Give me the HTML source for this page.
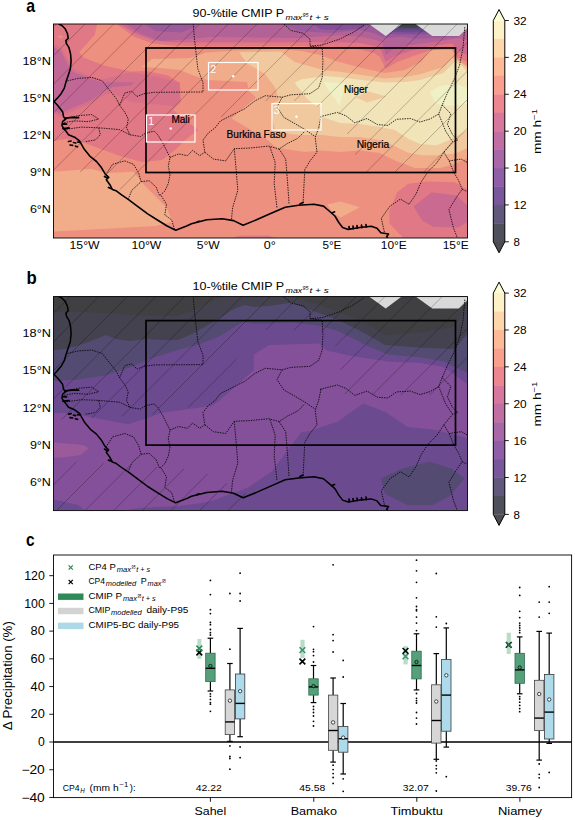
<!DOCTYPE html>
<html><head><meta charset="utf-8"><title>Figure</title>
<style>
html,body{margin:0;padding:0;background:#fff;}
body{width:575px;height:820px;overflow:hidden;font-family:"Liberation Sans",sans-serif;}
svg{display:block;}
text{font-family:"Liberation Sans",sans-serif;fill:#000;}
.b{font-weight:bold;}
.i{font-style:italic;}
</style></head><body>
<svg width="575" height="820" viewBox="0 0 575 820">
<rect x="0" y="0" width="575" height="820" fill="#ffffff"/>
<defs><clipPath id="clipA"><rect x="53.5" y="24" width="414" height="214"/></clipPath></defs>
<g clip-path="url(#clipA)">
<rect x="53.5" y="24" width="414" height="214" fill="#ed9080"/>
<path d="M142 67 L152 59 L190 58 L206 52.4 L235 50.5 L277 49 L302 51 L320 55 L338 61.7 L362 68 L385 73 L405 70 L421 62 L430 50 L452 50 L458 60 L467.5 66 L467.5 158 L455 164 L440 168 L415 168 L396 161 L380 153 L360 150.6 L340 152 L320 150.6 L305 152 L277 148 L265 138 L251 130 L231.5 118.5 L256 97.6 L249 91 L247 82 L208 80 L192 75 L180 70 L160 68Z" fill="#f1ac8a" />
<path d="M53.3 171.7 L91.7 169 L105.6 173.1 L133.5 171.7 L144.6 185.6 L166.9 207.9 L172.4 221.8 L155.7 226 L105.6 228.8 L53.3 231.6Z" fill="#f1ac8a" />
<path d="M327.3 204.5 L340.7 201.5 L359.8 207.2 L340.7 217.5 L333 213Z" fill="#f1ac8a" />
<path d="M239 52.3 L280.7 51.5 L294.6 62 L325 70.6 L338 71.5 L362 75 L385 78.4 L405 77 L421 74 L443.6 67 L452 58 L460 62 L467.5 68 L467.5 148 L455 153.6 L436.8 155.2 L421 155.2 L407.5 152.6 L395 146.3 L380 140 L360 137 L340 137 L322 135 L300 135 L290 134 L275 130 L272 118 L271 103.7 L279 100 L275.4 88 L265 74 L247.6 63.7Z" fill="#f1c99f" />
<path d="M301.5 79.3 L325 76 L338 77 L362 80 L385 82.6 L405 82 L421 79.8 L443.6 72.9 L454.7 61.7 L462 66 L467.5 72 L467.5 130 L455 137 L449.3 140 L436.8 145.3 L421 144.2 L408.6 139 L395 130 L380 127 L360 124 L340 123 L322 117 L321 106 L315.4 105.4 L306.7 98.4 L294.6 82.8Z" fill="#f0e4b8" />
<path d="M356 97.4 L367.4 91.3 L386.5 96.5 L367.4 102.6Z" fill="#f1c99f" />
<path d="M323 81.7 L345.7 83.5 L339.6 106Z" fill="#eff0c5" />
<path d="M429.6 92 L440 86 L456 84 L467.5 88 L467.5 104 L450 106 L436 104Z" fill="#eff0c5" />
<path d="M53.5 24 L97.3 24 L94.5 35.3 L79.2 52 L83.4 57.6 L105.6 65.9 L130.7 71.5 L146 71 L168 75.5 L180 83 L181 102 L173 110 L198 130 L184 141 L175 150 L162 160 L142 162 L120 156 L86 143.5 L67 139 L53.5 141Z" fill="#e17885" />
<path d="M57.5 36.7 L60.6 35.2 L63.8 36.7 L60.6 38.3Z" fill="#ed9080" />
<path d="M53.5 46.5 L61 49 L72 59 L78 71.5 L103 80 L146 80 L176 84 L178 101 L170 110 L192 130 L180 140 L172 148 L160 157 L142 159 L120 153 L86 140.5 L67 136 L53.5 138Z" fill="#e17885" />
<path d="M53.5 44 L62 48.5 L67 58 L73.5 69 L91 76.5 L102 79.5 L130 72.5 L146.5 74.5 L179.6 82.6 L179.6 100 L174.3 106 L147.4 103.5 L130 101.7 L112 93 L104 95 L93 102.5 L71 112 L59.4 116.5 L53.5 113.5Z" fill="#d67189"/>
<path d="M53.5 47 L61 51 L65.6 60.3 L71.9 71.3 L90.7 79.1 L101.6 82.3 L134.5 82.3 L131.4 85.4 L112.6 87 L103.2 91.6 L92.3 99.5 L70.3 108.9 L59.4 113.6 L53.5 110.4Z" fill="#c16795"/>
<path d="M116.5 24 L134 36.7 L153 43.6 L172.4 45.6 L210 46.4 L300 46 L338 48 L360 49.5 L374 53 L380 57 L385.7 68.7 L397 62 L412 56.5 L430 50.5 L452 48 L458 58 L467.5 62 L467.5 24Z" fill="#e17885" />
<path d="M120 24 L136 34 L154 40.5 L172 42.3 L210 42.5 L300 42.3 L338 42.3 L360 43 L374 45.7 L381 50 L385.7 61.7 L395 56 L410 51 L432 46 L452 43.5 L460 52 L467.5 55 L467.5 24Z" fill="#cb6a90" />
<path d="M126 24 L140 33.5 L161.3 40.9 L183.6 39.5 L210 37 L300 38 L338 35.3 L360 36.7 L374 39.5 L382.3 42.3 L385.7 54.8 L392 50 L406 45.7 L440 40.9 L459 38 L463 40 L467.5 40 L467.5 24Z" fill="#b36297" />
<path d="M144.6 24 L155.7 31 L180.8 32.5 L194.7 27 L197.5 24Z" fill="#9b5a9a" />
<path d="M283 24 L298 31 L330 33 L360 30 L374 33.2 L385.7 38 L401.7 36.7 L415.6 38.8 L432 38 L459 37 L459 24Z" fill="#9b5a9a" />
<path d="M312 24 L322 29.5 L345 30 L362 28 L369 24.2Z" fill="#835099" />
<path d="M388.5 34 L400 34.2 L415 34.6 L429.5 34 L415.6 24.2 L401.7 24.2Z" fill="#835099" />
<path d="M391.5 31.7 L401 32 L415 32.3 L426.5 31.8 L415.6 24.2 L401.7 24.2Z" fill="#6b4a8f" />
<path d="M394.3 29.7 L402 29.9 L414 30.1 L423.4 29.7 L415.6 24.2 L401.7 24.2Z" fill="#534b71" />
<path d="M397.1 27.6 L403 27.8 L413 27.9 L420.4 27.6 L415.6 24.2 L401.7 24.2Z" fill="#43424e" />
<path d="M399.5 25.8 L417.9 25.8 L415.6 24.2 L401.7 24.2Z" fill="#403f42" />
<path d="M369 24 L385.7 36 L401.7 24Z" fill="#d9d9d9"/>
<path d="M415.6 24 L432.3 36 L459 36 L467.5 28 L467.5 24Z" fill="#d9d9d9"/>
<path d="M389.4 211.1 L397.2 192.3 L408.2 183.7 L426.9 181.4 L455.1 182.2 L467.5 189.5 L467.5 238 L403.5 238 L389.4 223.6Z" fill="#e17885" />
<path d="M413.6 206.4 L431.6 192.3 L456.7 195.5 L467.5 205.5 L467.5 222.1 L458.2 227.6 L433.2 226.8 L422.3 220.5Z" fill="#cb6a90" />
<path d="M232 238 L240 235.5 L268 235.5 L276 238Z" fill="#e17885" />
</g>
<defs><clipPath id="hatchA"><path d="M53.5 24 L467.5 24 L467.5 130 L455 150 L440 172 L362 172 L340 115 L303 101 L262 101 L244 121 L210 115 L161 170 L150 172 L120 190 L100 172 L53.5 172Z"/></clipPath></defs>
<g clip-path="url(#hatchA)" stroke="#000" stroke-opacity="0.55" stroke-width="0.45" fill="none">
<line x1="-272" y1="238" x2="-58" y2="24"/>
<line x1="-243.38" y1="238" x2="-29.38" y2="24"/>
<line x1="-214.76" y1="238" x2="-0.76" y2="24"/>
<line x1="-186.14" y1="238" x2="27.86" y2="24"/>
<line x1="-157.52" y1="238" x2="56.48" y2="24"/>
<line x1="-128.9" y1="238" x2="85.1" y2="24"/>
<line x1="-100.28" y1="238" x2="113.72" y2="24"/>
<line x1="-71.66" y1="238" x2="142.34" y2="24"/>
<line x1="-43.04" y1="238" x2="170.96" y2="24"/>
<line x1="-14.42" y1="238" x2="199.58" y2="24"/>
<line x1="14.2" y1="238" x2="228.2" y2="24"/>
<line x1="42.82" y1="238" x2="256.82" y2="24"/>
<line x1="71.44" y1="238" x2="285.44" y2="24"/>
<line x1="100.06" y1="238" x2="314.06" y2="24"/>
<line x1="128.68" y1="238" x2="342.68" y2="24"/>
<line x1="157.3" y1="238" x2="371.3" y2="24"/>
<line x1="185.92" y1="238" x2="399.92" y2="24"/>
<line x1="214.54" y1="238" x2="428.54" y2="24"/>
<line x1="243.16" y1="238" x2="457.16" y2="24"/>
<line x1="271.78" y1="238" x2="485.78" y2="24"/>
<line x1="300.4" y1="238" x2="514.4" y2="24"/>
<line x1="329.02" y1="238" x2="543.02" y2="24"/>
<line x1="357.64" y1="238" x2="571.64" y2="24"/>
<line x1="386.26" y1="238" x2="600.26" y2="24"/>
<line x1="414.88" y1="238" x2="628.88" y2="24"/>
<line x1="443.5" y1="238" x2="657.5" y2="24"/>
<line x1="472.12" y1="238" x2="686.12" y2="24"/>
<line x1="500.74" y1="238" x2="714.74" y2="24"/>
<line x1="529.36" y1="238" x2="743.36" y2="24"/>
<line x1="557.98" y1="238" x2="771.98" y2="24"/>
<line x1="586.6" y1="238" x2="800.6" y2="24"/>
<line x1="615.22" y1="238" x2="829.22" y2="24"/>
<line x1="643.84" y1="238" x2="857.84" y2="24"/>
<line x1="672.46" y1="238" x2="886.46" y2="24"/>
<line x1="701.08" y1="238" x2="915.08" y2="24"/>
<line x1="729.7" y1="238" x2="943.7" y2="24"/>
<line x1="758.32" y1="238" x2="972.32" y2="24"/>
<line x1="786.94" y1="238" x2="1000.94" y2="24"/>
<line x1="815.56" y1="238" x2="1029.56" y2="24"/>
<line x1="844.18" y1="238" x2="1058.18" y2="24"/>
</g>
<g clip-path="url(#clipA)">
<path d="M58.7 24 L61.9 25.5 L65.1 28.7 L67.4 33.5 L68.2 38.2 L65.8 40.6 L66.6 43.8 L69 47.7 L70.6 54.1 L71.1 61.2 L70.3 69.1 L68.2 75.5 L65.8 82.6 L64.3 88.1 L61.1 93.7 L57.1 98.4 L54 101.6 L57.1 104.8 L60.3 108.7 L62.7 111.9 L63.5 116.7 L65.8 119 L62.7 121.4 L61.9 125.4 L63.7 128.7 L65.8 130.9 L68.5 134.7 L74.6 137.2 L79.5 140.8 L84.3 149.3 L90.4 156.7 L96.5 161.5 L101.4 167.6 L105 173.7 L108.7 177.4 L106.3 179.8 L109.9 184.7 L112.4 189.5 L116 190.7 L120.9 194.4 L128.2 199.3 L137.9 206.6 L147.7 213.9 L157.4 220 L167.1 226 L175.7 230.2 L186.6 226 L191.5 223.7 L206.8 219.8 L222.1 218.7 L233.6 220.6 L243.1 225.2 L256.5 219.8 L271.8 213 L285.2 207.2 L298.6 205.3 L313.9 204.2 L323.5 206.1 L329.2 211 L334.9 216 L338.8 222.5 L342.6 227.5 L348.3 229.4 L359.8 227.5 L371.3 226.3 L377 228.3 L380.8 232.8 L388.5 234 L386.6 236.7 L388 238" fill="none" stroke="#000" stroke-width="1.6" stroke-linejoin="round"/>
<path d="M65.5 118.2 L72 117.4 L78.5 117.6 M63 128.6 L69 128 M63.5 124 L66.5 124.2" fill="none" stroke="#000" stroke-width="1.8" stroke-linecap="round"/><path d="M68.5 141.5 l2.6 -0.5 M73.5 142.5 l2.2 0.5 M70 145 l2.6 0.3 M75.5 146.2 l2 0.6 M77.5 142 l2.4 0.4 M104.5 176.5 l2.8 1.6 M108.5 187.5 l3 1.2 M349 226.5 l0.3 2.6 M353 226 l0.3 2.6 M357 225.5 l0.3 2.6 M361.5 225.2 l0.3 2.4 M366 224.6 l0.4 2.4 M332 213 l2.5 -1.2 M197 222 l2 -0.8 M300 204 l3 -1.5" fill="none" stroke="#000" stroke-width="1.7" stroke-linecap="round"/>
<g fill="none" stroke="#000" stroke-width="0.8" stroke-dasharray="1.5 1.0" transform="translate(0 0)">
<path d="M67.4 80.9 L77.8 78.4 L91.7 77.4 L102.2 80.9 L109.1 89.6 L116.1 98.3 L119.6 105.2 L124.8 112.2 L128.3 119.1 L126.5 127.8 L130 134.8"/>
<path d="M119.6 105.2 L124.8 93 L131.7 91.3 L137 96.5 L143.9 93.7 L154.3 92.3 L203 92 L203 82.6 L197.8 68.7 L194.3 37.4 L193.3 24.2"/>
<path d="M63.9 119.1 L77.8 115.7 L91.7 114.6 L98.7 119.1 L88.3 121.6 L74.3 120.9 L63.9 122.6"/>
<path d="M63.9 129.6 L81.3 127.1 L98.7 127.8 L100.4 134.8 L95.2 140 L84.8 141.7"/>
<path d="M98.7 127.8 L119.6 129.6 L130 134.8 L140.4 136.5 L145.7 133 L154.3 131.3 L157.8 134.8 L163 143.5 L166.5 150.4 L170 157.4 L168.3 166.1 L170 174.8"/>
<path d="M105.7 174.8 L112.6 164.3 L124.8 160.9 L133.5 164.3 L138.7 173 L141.1 181.7 L131.7 190.4 L128.3 199.1"/>
<path d="M141.1 181.7 L149.1 180.7 L156.1 187 L159.6 195.7 L164.8 191.1 L168.3 183.5 L170 174.8"/>
<path d="M161.3 195.7 L166.5 204.3 L164.8 214.8 L171.7 220 L174.5 229.4"/>
<path d="M170 157.4 L178.7 153.9 L187.4 155.7 L192.6 150.4 L199.6 155.7 L204.8 152.2 L203 140 L208.3 133 L215.2 127.8 L220.4 120.9 L227.4 117.4 L237.8 112.2 L244.8 108.7 L254.8 100.9 L265.2 95.7 L282.2 97.2 L290.9 94.8 L310 93.7 L318.7 87.8 L322.2 77.4 L322.9 61.7 L322.2 47.8 L310 46.1"/>
<path d="M204.8 152.2 L213.5 159.1 L225.7 160.9 L234.3 148.7 L250 148 L268.7 146.1 L279.1 149 L287.4 143.5 L297.8 138.3 L304.8 131.3"/>
<path d="M234.3 148.7 L236.1 169.6 L237.8 190.4 L232.6 207.8 L231.5 219"/>
<path d="M270 147 L275.2 162.6 L274.2 183.5 L277 207.8"/>
<path d="M279.1 149 L285.7 159.1 L287.4 180 L289.1 204.3"/>
<path d="M282.2 97.2 L277 107 L283.9 117.4 L296.1 124.3 L304.8 129.5 L315.2 136.5"/>
<path d="M321 116.5 L318.7 127.8 L315.2 137.5 L317 152.2 L310 160.9 L304.8 169.6 L303 204.3"/>
<path d="M320 116.7 L337.4 112.4 L346.1 115.9 L354.8 122.8 L367 118.5 L377.4 124.6 L387.8 125.4 L396.5 119.3 L410.4 118.5 L420 122 L430 119 L438.7 114 L442.2 105"/>
<path d="M283.9 24.2 L290.9 30.4 L303 33.2 L310 39.1 L310 46.1 L322.2 45 L339.6 39.1 L353.5 32.2 L363.9 25.2"/>
<path d="M464.8 27 L463 47.8 L459.6 65.2 L454.3 79.1 L447.4 93 L442.2 105"/>
<path d="M442.2 105 L450.9 113.9 L447.4 124.3 L452.6 134.8 L457.8 140 L452.6 141.7 L443.9 152.2 L437 162.6 L428.3 171.3 L421.3 181.7 L416.1 193.9 L409.1 204.3 L400.4 199.1 L390 206.1 L381.3 218.3 L384.8 233.9"/>
<path d="M438.7 114 L442.2 122.6 L445.7 131.3 L452.6 141.7"/>
<path d="M443.9 152.2 L449.1 160.9 L461.3 159.1 L467.5 162.6"/>
<path d="M449.1 160.9 L453.6 172 L458.2 179.8 L462.2 189.2 L456.7 197 L448.9 209.6 L451.2 219 L453.6 228.3 L456.7 236.2 L457 238"/>
<path d="M462.2 189.2 L467.5 191.8"/>
</g>
<rect x="146" y="48" width="309.5" height="124.5" fill="none" stroke="#000" stroke-width="1.7"/>
<rect x="146.5" y="115" width="48.5" height="27" fill="none" stroke="#fff" stroke-width="1.2"/>
<circle cx="170.75" cy="128.5" r="1.2" fill="#fff"/>
<text x="148.3" y="125.3" font-size="10.5" style="fill:#fff">1</text>
<rect x="208.5" y="62.5" width="49.5" height="27.5" fill="none" stroke="#fff" stroke-width="1.2"/>
<circle cx="233.25" cy="76.25" r="1.2" fill="#fff"/>
<text x="210.3" y="72.8" font-size="10.5" style="fill:#fff">2</text>
<rect x="272" y="103.6" width="49" height="26.4" fill="none" stroke="#fff" stroke-width="1.2"/>
<circle cx="296.5" cy="116.8" r="1.2" fill="#fff"/>
<text x="273.8" y="113.9" font-size="10.5" style="fill:#fff">3</text>
</g>
<text x="180.6" y="122.6" font-size="10" text-anchor="middle" textLength="18.4" lengthAdjust="spacingAndGlyphs" stroke="#000" stroke-width="0.2">Mali</text>
<text x="356" y="92.5" font-size="10" text-anchor="middle" textLength="23.8" lengthAdjust="spacingAndGlyphs" stroke="#000" stroke-width="0.2">Niger</text>
<text x="256.3" y="138" font-size="10" text-anchor="middle" textLength="59.5" lengthAdjust="spacingAndGlyphs" stroke="#000" stroke-width="0.2">Burkina Faso</text>
<text x="373" y="147.8" font-size="10" text-anchor="middle" textLength="32.6" lengthAdjust="spacingAndGlyphs" stroke="#000" stroke-width="0.2">Nigeria</text>
<rect x="53.5" y="24" width="414" height="214" fill="none" stroke="#000" stroke-width="0.9"/>
<text x="50.9" y="64.5" font-size="11.2" text-anchor="end" textLength="28.4" lengthAdjust="spacingAndGlyphs">18°N</text>
<text x="50.9" y="101.7" font-size="11.2" text-anchor="end" textLength="28.4" lengthAdjust="spacingAndGlyphs">15°N</text>
<text x="50.9" y="138.9" font-size="11.2" text-anchor="end" textLength="28.4" lengthAdjust="spacingAndGlyphs">12°N</text>
<text x="50.9" y="176.1" font-size="11.2" text-anchor="end" textLength="21" lengthAdjust="spacingAndGlyphs">9°N</text>
<text x="50.9" y="213.3" font-size="11.2" text-anchor="end" textLength="21" lengthAdjust="spacingAndGlyphs">6°N</text>
<text x="84.55" y="249.2" font-size="11.2" text-anchor="middle" textLength="30" lengthAdjust="spacingAndGlyphs">15°W</text>
<text x="146.4" y="249.2" font-size="11.2" text-anchor="middle" textLength="30" lengthAdjust="spacingAndGlyphs">10°W</text>
<text x="208.25" y="249.2" font-size="11.2" text-anchor="middle" textLength="23" lengthAdjust="spacingAndGlyphs">5°W</text>
<text x="269.7" y="249.2" font-size="11.2" text-anchor="middle" textLength="12" lengthAdjust="spacingAndGlyphs">0°</text>
<text x="331.95" y="249.2" font-size="11.2" text-anchor="middle" textLength="19" lengthAdjust="spacingAndGlyphs">5°E</text>
<text x="393.8" y="249.2" font-size="11.2" text-anchor="middle" textLength="26" lengthAdjust="spacingAndGlyphs">10°E</text>
<text x="455.65" y="249.2" font-size="11.2" text-anchor="middle" textLength="26" lengthAdjust="spacingAndGlyphs">15°E</text>
<rect x="493.3" y="20.5" width="11.5" height="18.7417" fill="#fdf1c5"/>
<rect x="493.3" y="38.9417" width="11.5" height="18.7417" fill="#fed6ac"/>
<rect x="493.3" y="57.3833" width="11.5" height="18.7417" fill="#feb997"/>
<rect x="493.3" y="75.825" width="11.5" height="18.7417" fill="#fa9e8d"/>
<rect x="493.3" y="94.2667" width="11.5" height="18.7417" fill="#ee8692"/>
<rect x="493.3" y="112.708" width="11.5" height="18.7417" fill="#d8779d"/>
<rect x="493.3" y="131.15" width="11.5" height="18.7417" fill="#c06fa4"/>
<rect x="493.3" y="149.592" width="11.5" height="18.7417" fill="#a867a7"/>
<rect x="493.3" y="168.033" width="11.5" height="18.7417" fill="#905ea6"/>
<rect x="493.3" y="186.475" width="11.5" height="18.7417" fill="#78579d"/>
<rect x="493.3" y="204.917" width="11.5" height="18.7417" fill="#61587e"/>
<rect x="493.3" y="223.358" width="11.5" height="18.7417" fill="#504f5c"/>
<path d="M493.3 20.5 L499.05 9.5 L504.8 20.5Z" fill="#fcfdd2"/>
<path d="M493.3 241.8 L499.05 252.8 L504.8 241.8Z" fill="#4d4d4f"/>
<path d="M493.3 20.5 L499.05 9.5 L504.8 20.5 L504.8 241.8 L499.05 252.8 L493.3 241.8Z" fill="none" stroke="#000" stroke-width="1" stroke-linejoin="miter"/>
<line x1="504.8" y1="20.5" x2="508.8" y2="20.5" stroke="#000" stroke-width="0.9"/>
<text x="513.5" y="24.7" font-size="11.2" textLength="13.2" lengthAdjust="spacingAndGlyphs">32</text>
<line x1="504.8" y1="57.3833" x2="508.8" y2="57.3833" stroke="#000" stroke-width="0.9"/>
<text x="513.5" y="61.5833" font-size="11.2" textLength="13.2" lengthAdjust="spacingAndGlyphs">28</text>
<line x1="504.8" y1="94.2667" x2="508.8" y2="94.2667" stroke="#000" stroke-width="0.9"/>
<text x="513.5" y="98.4667" font-size="11.2" textLength="13.2" lengthAdjust="spacingAndGlyphs">24</text>
<line x1="504.8" y1="131.15" x2="508.8" y2="131.15" stroke="#000" stroke-width="0.9"/>
<text x="513.5" y="135.35" font-size="11.2" textLength="13.2" lengthAdjust="spacingAndGlyphs">20</text>
<line x1="504.8" y1="168.033" x2="508.8" y2="168.033" stroke="#000" stroke-width="0.9"/>
<text x="513.5" y="172.233" font-size="11.2" textLength="13.2" lengthAdjust="spacingAndGlyphs">16</text>
<line x1="504.8" y1="204.917" x2="508.8" y2="204.917" stroke="#000" stroke-width="0.9"/>
<text x="513.5" y="209.117" font-size="11.2" textLength="13.2" lengthAdjust="spacingAndGlyphs">12</text>
<line x1="504.8" y1="241.8" x2="508.8" y2="241.8" stroke="#000" stroke-width="0.9"/>
<text x="513.5" y="246" font-size="11.2" textLength="6.4" lengthAdjust="spacingAndGlyphs">8</text>
<text transform="translate(541 131.5) rotate(-90)" font-size="11.3" text-anchor="middle" textLength="45" lengthAdjust="spacingAndGlyphs">mm h<tspan font-size="7.9" dy="-4.2">−1</tspan></text>
<text x="26.2" y="11.9" font-size="18.5" class="b" textLength="8.8" lengthAdjust="spacingAndGlyphs">a</text>
<text x="192.6" y="17.3" font-size="11.4" textLength="91.5" lengthAdjust="spacingAndGlyphs">90-%tile CMIP P</text>
<text x="285.6" y="20" font-size="8" class="i" textLength="16.6" lengthAdjust="spacingAndGlyphs">max</text>
<text x="302.6" y="17" font-size="5.6" class="i" textLength="6" lengthAdjust="spacingAndGlyphs">95</text>
<text x="309.4" y="20" font-size="8" class="i" textLength="19.3" lengthAdjust="spacingAndGlyphs">t + s</text>
<defs><clipPath id="clipB"><rect x="53.5" y="296.6" width="414" height="214"/></clipPath></defs>
<g clip-path="url(#clipB)">
<rect x="53.5" y="296.6" width="414" height="214" fill="#6b4a8f"/>
<path d="M53.5 413 L72 413 L92 417.3 L128 424.3 L145 418.7 L161 413 L189 409 L210.6 406 L216 403.3 L235.6 386.6 L253.7 370 L253.7 354.6 L269 345 L319 343.5 L326.7 350.4 L351.7 356 L388 361.6 L421 363 L443.6 367 L467.5 384 L467.5 438.2 L435 429.8 L407.4 427 L385 411.7 L363 403.4 L338 421.5 L310 431 L301 432.6 L271.8 471.6 L246.8 488.3 L207.8 502.2 L180 506 L140 508 L120 510.9 L86 510.9 L78 505 L53.5 499.4Z" fill="#835099" />
<path d="M53.3 442.3 L83.4 445.1 L89 447.9 L80.6 454.9 L61.1 457.7 L53.3 457.7Z" fill="#9b5a9a" />
<path d="M53.5 381 L78 379.6 L105.6 375.5 L133.5 366 L152 358 L178 350 L200 344 L220 336 L236 326 L244 322 L255 324 L291.3 322.6 L319 325.4 L337.8 331 L365.6 344.9 L387.9 354.6 L421.3 357.4 L443.6 361.6 L467.5 372.7 L467.5 296.6 L53.5 296.6Z" fill="#534b71" />
<path d="M53.5 350 L66 349 L86 343 L106 335 L116 339 L130 341 L146 339 L165 340 L178 340 L192 334 L206 326 L220 318 L232 310 L244 305 L255 307 L271.8 305.4 L291.3 302.6 L310.8 310.1 L337.8 319.8 L365.6 333.7 L385.1 344.9 L421.3 347.7 L454.7 349 L467.5 333.7 L467.5 296.6 L53.5 296.6Z" fill="#43424e" />
<path d="M53.5 296.6 L224 296.6 L220 298 L206 304 L192 311 L176 316 L140 315.5 L110 313 L80 312 L53.5 312Z" fill="#403f42" />
<path d="M291.3 296.6 L313.6 303.1 L337.8 311.5 L365.6 322.6 L385.1 335.1 L421.3 332.3 L454.7 326.8 L464.4 308.7 L467.5 305 L467.5 296.6Z" fill="#403f42" />
<path d="M381 478.5 L401.8 468.8 L429.6 461.8 L451.9 468.8 L464.4 478.5 L449.1 496.6 L432.4 505 L407.4 505 L385.1 493.8Z" fill="#534b71" />
<path d="M369 296.6 L385.7 308.6 L401.7 296.6Z" fill="#d9d9d9"/>
<path d="M415.6 296.6 L432.3 308.6 L459 308.6 L467.5 300.6 L467.5 296.6Z" fill="#d9d9d9"/>
</g>
<defs><clipPath id="hatchB"><path d="M53.5 296.6 L467.5 296.6 L467.5 380 L440 395 L345 395 L335 345 L320 330 L262 330 L240 352 L215 402 L150 415 L53.5 420Z M53.5 460 L200 470 L260 500 L250 510.9 L53.5 510.9Z"/></clipPath></defs>
<g clip-path="url(#hatchB)" stroke="#000" stroke-opacity="0.55" stroke-width="0.45" fill="none">
<line x1="-544.6" y1="510.6" x2="-330.6" y2="296.6"/>
<line x1="-515.98" y1="510.6" x2="-301.98" y2="296.6"/>
<line x1="-487.36" y1="510.6" x2="-273.36" y2="296.6"/>
<line x1="-458.74" y1="510.6" x2="-244.74" y2="296.6"/>
<line x1="-430.12" y1="510.6" x2="-216.12" y2="296.6"/>
<line x1="-401.5" y1="510.6" x2="-187.5" y2="296.6"/>
<line x1="-372.88" y1="510.6" x2="-158.88" y2="296.6"/>
<line x1="-344.26" y1="510.6" x2="-130.26" y2="296.6"/>
<line x1="-315.64" y1="510.6" x2="-101.64" y2="296.6"/>
<line x1="-287.02" y1="510.6" x2="-73.02" y2="296.6"/>
<line x1="-258.4" y1="510.6" x2="-44.4" y2="296.6"/>
<line x1="-229.78" y1="510.6" x2="-15.78" y2="296.6"/>
<line x1="-201.16" y1="510.6" x2="12.84" y2="296.6"/>
<line x1="-172.54" y1="510.6" x2="41.46" y2="296.6"/>
<line x1="-143.92" y1="510.6" x2="70.08" y2="296.6"/>
<line x1="-115.3" y1="510.6" x2="98.7" y2="296.6"/>
<line x1="-86.68" y1="510.6" x2="127.32" y2="296.6"/>
<line x1="-58.06" y1="510.6" x2="155.94" y2="296.6"/>
<line x1="-29.44" y1="510.6" x2="184.56" y2="296.6"/>
<line x1="-0.82" y1="510.6" x2="213.18" y2="296.6"/>
<line x1="27.8" y1="510.6" x2="241.8" y2="296.6"/>
<line x1="56.42" y1="510.6" x2="270.42" y2="296.6"/>
<line x1="85.04" y1="510.6" x2="299.04" y2="296.6"/>
<line x1="113.66" y1="510.6" x2="327.66" y2="296.6"/>
<line x1="142.28" y1="510.6" x2="356.28" y2="296.6"/>
<line x1="170.9" y1="510.6" x2="384.9" y2="296.6"/>
<line x1="199.52" y1="510.6" x2="413.52" y2="296.6"/>
<line x1="228.14" y1="510.6" x2="442.14" y2="296.6"/>
<line x1="256.76" y1="510.6" x2="470.76" y2="296.6"/>
<line x1="285.38" y1="510.6" x2="499.38" y2="296.6"/>
<line x1="314" y1="510.6" x2="528" y2="296.6"/>
<line x1="342.62" y1="510.6" x2="556.62" y2="296.6"/>
<line x1="371.24" y1="510.6" x2="585.24" y2="296.6"/>
<line x1="399.86" y1="510.6" x2="613.86" y2="296.6"/>
<line x1="428.48" y1="510.6" x2="642.48" y2="296.6"/>
<line x1="457.1" y1="510.6" x2="671.1" y2="296.6"/>
<line x1="485.72" y1="510.6" x2="699.72" y2="296.6"/>
<line x1="514.34" y1="510.6" x2="728.34" y2="296.6"/>
<line x1="542.96" y1="510.6" x2="756.96" y2="296.6"/>
<line x1="571.58" y1="510.6" x2="785.58" y2="296.6"/>
</g>
<g clip-path="url(#clipB)">
<path d="M58.7 24 L61.9 25.5 L65.1 28.7 L67.4 33.5 L68.2 38.2 L65.8 40.6 L66.6 43.8 L69 47.7 L70.6 54.1 L71.1 61.2 L70.3 69.1 L68.2 75.5 L65.8 82.6 L64.3 88.1 L61.1 93.7 L57.1 98.4 L54 101.6 L57.1 104.8 L60.3 108.7 L62.7 111.9 L63.5 116.7 L65.8 119 L62.7 121.4 L61.9 125.4 L63.7 128.7 L65.8 130.9 L68.5 134.7 L74.6 137.2 L79.5 140.8 L84.3 149.3 L90.4 156.7 L96.5 161.5 L101.4 167.6 L105 173.7 L108.7 177.4 L106.3 179.8 L109.9 184.7 L112.4 189.5 L116 190.7 L120.9 194.4 L128.2 199.3 L137.9 206.6 L147.7 213.9 L157.4 220 L167.1 226 L175.7 230.2 L186.6 226 L191.5 223.7 L206.8 219.8 L222.1 218.7 L233.6 220.6 L243.1 225.2 L256.5 219.8 L271.8 213 L285.2 207.2 L298.6 205.3 L313.9 204.2 L323.5 206.1 L329.2 211 L334.9 216 L338.8 222.5 L342.6 227.5 L348.3 229.4 L359.8 227.5 L371.3 226.3 L377 228.3 L380.8 232.8 L388.5 234 L386.6 236.7 L388 238" fill="none" stroke="#000" stroke-width="1.5" stroke-linejoin="round" transform="translate(0 272.6)"/>
<g transform="translate(0 272.6)"><path d="M65.5 118.2 L72 117.4 L78.5 117.6 M63 128.6 L69 128 M63.5 124 L66.5 124.2" fill="none" stroke="#000" stroke-width="1.8" stroke-linecap="round"/><path d="M68.5 141.5 l2.6 -0.5 M73.5 142.5 l2.2 0.5 M70 145 l2.6 0.3 M75.5 146.2 l2 0.6 M77.5 142 l2.4 0.4 M104.5 176.5 l2.8 1.6 M108.5 187.5 l3 1.2 M349 226.5 l0.3 2.6 M353 226 l0.3 2.6 M357 225.5 l0.3 2.6 M361.5 225.2 l0.3 2.4 M366 224.6 l0.4 2.4 M332 213 l2.5 -1.2 M197 222 l2 -0.8 M300 204 l3 -1.5" fill="none" stroke="#000" stroke-width="1.7" stroke-linecap="round"/></g>
<g fill="none" stroke="#000" stroke-width="0.8" stroke-dasharray="1.5 1.0" transform="translate(0 272.6)">
<path d="M67.4 80.9 L77.8 78.4 L91.7 77.4 L102.2 80.9 L109.1 89.6 L116.1 98.3 L119.6 105.2 L124.8 112.2 L128.3 119.1 L126.5 127.8 L130 134.8"/>
<path d="M119.6 105.2 L124.8 93 L131.7 91.3 L137 96.5 L143.9 93.7 L154.3 92.3 L203 92 L203 82.6 L197.8 68.7 L194.3 37.4 L193.3 24.2"/>
<path d="M63.9 119.1 L77.8 115.7 L91.7 114.6 L98.7 119.1 L88.3 121.6 L74.3 120.9 L63.9 122.6"/>
<path d="M63.9 129.6 L81.3 127.1 L98.7 127.8 L100.4 134.8 L95.2 140 L84.8 141.7"/>
<path d="M98.7 127.8 L119.6 129.6 L130 134.8 L140.4 136.5 L145.7 133 L154.3 131.3 L157.8 134.8 L163 143.5 L166.5 150.4 L170 157.4 L168.3 166.1 L170 174.8"/>
<path d="M105.7 174.8 L112.6 164.3 L124.8 160.9 L133.5 164.3 L138.7 173 L141.1 181.7 L131.7 190.4 L128.3 199.1"/>
<path d="M141.1 181.7 L149.1 180.7 L156.1 187 L159.6 195.7 L164.8 191.1 L168.3 183.5 L170 174.8"/>
<path d="M161.3 195.7 L166.5 204.3 L164.8 214.8 L171.7 220 L174.5 229.4"/>
<path d="M170 157.4 L178.7 153.9 L187.4 155.7 L192.6 150.4 L199.6 155.7 L204.8 152.2 L203 140 L208.3 133 L215.2 127.8 L220.4 120.9 L227.4 117.4 L237.8 112.2 L244.8 108.7 L254.8 100.9 L265.2 95.7 L282.2 97.2 L290.9 94.8 L310 93.7 L318.7 87.8 L322.2 77.4 L322.9 61.7 L322.2 47.8 L310 46.1"/>
<path d="M204.8 152.2 L213.5 159.1 L225.7 160.9 L234.3 148.7 L250 148 L268.7 146.1 L279.1 149 L287.4 143.5 L297.8 138.3 L304.8 131.3"/>
<path d="M234.3 148.7 L236.1 169.6 L237.8 190.4 L232.6 207.8 L231.5 219"/>
<path d="M270 147 L275.2 162.6 L274.2 183.5 L277 207.8"/>
<path d="M279.1 149 L285.7 159.1 L287.4 180 L289.1 204.3"/>
<path d="M282.2 97.2 L277 107 L283.9 117.4 L296.1 124.3 L304.8 129.5 L315.2 136.5"/>
<path d="M321 116.5 L318.7 127.8 L315.2 137.5 L317 152.2 L310 160.9 L304.8 169.6 L303 204.3"/>
<path d="M320 116.7 L337.4 112.4 L346.1 115.9 L354.8 122.8 L367 118.5 L377.4 124.6 L387.8 125.4 L396.5 119.3 L410.4 118.5 L420 122 L430 119 L438.7 114 L442.2 105"/>
<path d="M283.9 24.2 L290.9 30.4 L303 33.2 L310 39.1 L310 46.1 L322.2 45 L339.6 39.1 L353.5 32.2 L363.9 25.2"/>
<path d="M464.8 27 L463 47.8 L459.6 65.2 L454.3 79.1 L447.4 93 L442.2 105"/>
<path d="M442.2 105 L450.9 113.9 L447.4 124.3 L452.6 134.8 L457.8 140 L452.6 141.7 L443.9 152.2 L437 162.6 L428.3 171.3 L421.3 181.7 L416.1 193.9 L409.1 204.3 L400.4 199.1 L390 206.1 L381.3 218.3 L384.8 233.9"/>
<path d="M438.7 114 L442.2 122.6 L445.7 131.3 L452.6 141.7"/>
<path d="M443.9 152.2 L449.1 160.9 L461.3 159.1 L467.5 162.6"/>
<path d="M449.1 160.9 L453.6 172 L458.2 179.8 L462.2 189.2 L456.7 197 L448.9 209.6 L451.2 219 L453.6 228.3 L456.7 236.2 L457 238"/>
<path d="M462.2 189.2 L467.5 191.8"/>
</g>
<rect x="146" y="320.6" width="309.5" height="124.5" fill="none" stroke="#000" stroke-width="1.7"/>
</g>
<rect x="53.5" y="296.6" width="414" height="214" fill="none" stroke="#000" stroke-width="0.9"/>
<text x="50.9" y="337.1" font-size="11.2" text-anchor="end" textLength="28.4" lengthAdjust="spacingAndGlyphs">18°N</text>
<text x="50.9" y="374.3" font-size="11.2" text-anchor="end" textLength="28.4" lengthAdjust="spacingAndGlyphs">15°N</text>
<text x="50.9" y="411.5" font-size="11.2" text-anchor="end" textLength="28.4" lengthAdjust="spacingAndGlyphs">12°N</text>
<text x="50.9" y="448.7" font-size="11.2" text-anchor="end" textLength="21" lengthAdjust="spacingAndGlyphs">9°N</text>
<text x="50.9" y="485.9" font-size="11.2" text-anchor="end" textLength="21" lengthAdjust="spacingAndGlyphs">6°N</text>
<rect x="493.3" y="293.1" width="11.5" height="18.7417" fill="#fdf1c5"/>
<rect x="493.3" y="311.542" width="11.5" height="18.7417" fill="#fed6ac"/>
<rect x="493.3" y="329.983" width="11.5" height="18.7417" fill="#feb997"/>
<rect x="493.3" y="348.425" width="11.5" height="18.7417" fill="#fa9e8d"/>
<rect x="493.3" y="366.867" width="11.5" height="18.7417" fill="#ee8692"/>
<rect x="493.3" y="385.308" width="11.5" height="18.7417" fill="#d8779d"/>
<rect x="493.3" y="403.75" width="11.5" height="18.7417" fill="#c06fa4"/>
<rect x="493.3" y="422.192" width="11.5" height="18.7417" fill="#a867a7"/>
<rect x="493.3" y="440.633" width="11.5" height="18.7417" fill="#905ea6"/>
<rect x="493.3" y="459.075" width="11.5" height="18.7417" fill="#78579d"/>
<rect x="493.3" y="477.517" width="11.5" height="18.7417" fill="#61587e"/>
<rect x="493.3" y="495.958" width="11.5" height="18.7417" fill="#504f5c"/>
<path d="M493.3 293.1 L499.05 282.1 L504.8 293.1Z" fill="#fcfdd2"/>
<path d="M493.3 514.4 L499.05 525.4 L504.8 514.4Z" fill="#4d4d4f"/>
<path d="M493.3 293.1 L499.05 282.1 L504.8 293.1 L504.8 514.4 L499.05 525.4 L493.3 514.4Z" fill="none" stroke="#000" stroke-width="1" stroke-linejoin="miter"/>
<line x1="504.8" y1="293.1" x2="508.8" y2="293.1" stroke="#000" stroke-width="0.9"/>
<text x="513.5" y="297.3" font-size="11.2" textLength="13.2" lengthAdjust="spacingAndGlyphs">32</text>
<line x1="504.8" y1="329.983" x2="508.8" y2="329.983" stroke="#000" stroke-width="0.9"/>
<text x="513.5" y="334.183" font-size="11.2" textLength="13.2" lengthAdjust="spacingAndGlyphs">28</text>
<line x1="504.8" y1="366.867" x2="508.8" y2="366.867" stroke="#000" stroke-width="0.9"/>
<text x="513.5" y="371.067" font-size="11.2" textLength="13.2" lengthAdjust="spacingAndGlyphs">24</text>
<line x1="504.8" y1="403.75" x2="508.8" y2="403.75" stroke="#000" stroke-width="0.9"/>
<text x="513.5" y="407.95" font-size="11.2" textLength="13.2" lengthAdjust="spacingAndGlyphs">20</text>
<line x1="504.8" y1="440.633" x2="508.8" y2="440.633" stroke="#000" stroke-width="0.9"/>
<text x="513.5" y="444.833" font-size="11.2" textLength="13.2" lengthAdjust="spacingAndGlyphs">16</text>
<line x1="504.8" y1="477.517" x2="508.8" y2="477.517" stroke="#000" stroke-width="0.9"/>
<text x="513.5" y="481.717" font-size="11.2" textLength="13.2" lengthAdjust="spacingAndGlyphs">12</text>
<line x1="504.8" y1="514.4" x2="508.8" y2="514.4" stroke="#000" stroke-width="0.9"/>
<text x="513.5" y="518.6" font-size="11.2" textLength="6.4" lengthAdjust="spacingAndGlyphs">8</text>
<text transform="translate(541 404.1) rotate(-90)" font-size="11.3" text-anchor="middle" textLength="45" lengthAdjust="spacingAndGlyphs">mm h<tspan font-size="7.9" dy="-4.2">−1</tspan></text>
<text x="26.6" y="283.9" font-size="19" class="b" textLength="10.2" lengthAdjust="spacingAndGlyphs">b</text>
<text x="192.6" y="289.9" font-size="11.4" textLength="91.5" lengthAdjust="spacingAndGlyphs">10-%tile CMIP P</text>
<text x="285.6" y="292.6" font-size="8" class="i" textLength="16.6" lengthAdjust="spacingAndGlyphs">max</text>
<text x="302.6" y="289.6" font-size="5.6" class="i" textLength="6" lengthAdjust="spacingAndGlyphs">95</text>
<text x="309.4" y="292.6" font-size="8" class="i" textLength="19.3" lengthAdjust="spacingAndGlyphs">t + s</text>
<rect x="53.5" y="555" width="518.1" height="242.6" fill="#fff" stroke="none"/>
<line x1="53.5" y1="742" x2="571.6" y2="742" stroke="#000" stroke-width="1.3"/>
<rect x="197.4" y="639" width="4" height="19.8" fill="#b9dcc8"/>
<path d="M196.4 649.6 L202.2 655.4 M196.4 655.4 L202.2 649.6" stroke="#000" stroke-width="1.6" fill="none"/>
<path d="M196.4 645.6 L202.2 651.4 M196.4 651.4 L202.2 645.6" stroke="#2e8b57" stroke-width="1.5" fill="none"/>
<line x1="210.4" y1="638.2" x2="210.4" y2="653.2" stroke="#000" stroke-width="1.2"/>
<line x1="210.4" y1="681.6" x2="210.4" y2="691" stroke="#000" stroke-width="1.2"/>
<line x1="207.6" y1="638.2" x2="213.2" y2="638.2" stroke="#000" stroke-width="1.2"/>
<line x1="207.6" y1="691" x2="213.2" y2="691" stroke="#000" stroke-width="1.2"/>
<rect x="205.7" y="653.2" width="9.4" height="28.4" fill="#55a07a" stroke="#2c6b4b" stroke-width="0.8"/>
<line x1="205.7" y1="668.3" x2="215.1" y2="668.3" stroke="#000" stroke-width="1.4"/>
<circle cx="210.4" cy="666" r="1.7" fill="#3c9a68" stroke="#000" stroke-width="0.7"/>
<circle cx="210.4" cy="580.4" r="0.9" fill="#000"/>
<circle cx="210.4" cy="594.6" r="0.9" fill="#000"/>
<circle cx="210.4" cy="609.7" r="0.9" fill="#000"/>
<circle cx="210.4" cy="613.6" r="0.9" fill="#000"/>
<circle cx="210.4" cy="622.4" r="0.9" fill="#000"/>
<circle cx="210.4" cy="624.7" r="0.9" fill="#000"/>
<circle cx="210.4" cy="629.5" r="0.9" fill="#000"/>
<circle cx="210.4" cy="632.7" r="0.9" fill="#000"/>
<circle cx="210.4" cy="635" r="0.9" fill="#000"/>
<circle cx="210.4" cy="693.9" r="0.9" fill="#000"/>
<circle cx="210.4" cy="696.3" r="0.9" fill="#000"/>
<circle cx="210.4" cy="699.4" r="0.9" fill="#000"/>
<circle cx="210.4" cy="702.6" r="0.9" fill="#000"/>
<circle cx="210.4" cy="704.2" r="0.9" fill="#000"/>
<circle cx="210.4" cy="711.3" r="0.9" fill="#000"/>
<line x1="229.9" y1="663.5" x2="229.9" y2="689.9" stroke="#000" stroke-width="1.2"/>
<line x1="229.9" y1="734.6" x2="229.9" y2="741.4" stroke="#000" stroke-width="1.2"/>
<line x1="227.1" y1="663.5" x2="232.7" y2="663.5" stroke="#000" stroke-width="1.2"/>
<line x1="227.1" y1="741.4" x2="232.7" y2="741.4" stroke="#000" stroke-width="1.2"/>
<rect x="225.2" y="689.9" width="9.4" height="44.7" fill="#d6d6d6" stroke="#444" stroke-width="0.8"/>
<line x1="225.2" y1="721.9" x2="234.6" y2="721.9" stroke="#000" stroke-width="1.4"/>
<circle cx="229.9" cy="700.7" r="1.7" fill="#fff" stroke="#000" stroke-width="0.7"/>
<circle cx="229.9" cy="593.5" r="0.9" fill="#000"/>
<circle cx="229.9" cy="649.2" r="0.9" fill="#000"/>
<circle cx="229.9" cy="745.9" r="0.9" fill="#000"/>
<circle cx="229.9" cy="756.5" r="0.9" fill="#000"/>
<circle cx="229.9" cy="758.5" r="0.9" fill="#000"/>
<circle cx="229.9" cy="769.2" r="0.9" fill="#000"/>
<line x1="240.1" y1="628.4" x2="240.1" y2="674" stroke="#000" stroke-width="1.2"/>
<line x1="240.1" y1="718.9" x2="240.1" y2="736.7" stroke="#000" stroke-width="1.2"/>
<line x1="237.3" y1="628.4" x2="242.9" y2="628.4" stroke="#000" stroke-width="1.2"/>
<line x1="237.3" y1="736.7" x2="242.9" y2="736.7" stroke="#000" stroke-width="1.2"/>
<rect x="235.4" y="674" width="9.4" height="44.9" fill="#aedbec" stroke="#3a3a3a" stroke-width="0.8"/>
<line x1="235.4" y1="703.4" x2="244.8" y2="703.4" stroke="#000" stroke-width="1.4"/>
<circle cx="240.1" cy="691.2" r="1.7" fill="#fff" stroke="#000" stroke-width="0.7"/>
<circle cx="240.1" cy="573.2" r="0.9" fill="#000"/>
<circle cx="240.1" cy="593.5" r="0.9" fill="#000"/>
<circle cx="240.1" cy="601" r="0.9" fill="#000"/>
<circle cx="240.1" cy="747" r="0.9" fill="#000"/>
<circle cx="240.1" cy="757.7" r="0.9" fill="#000"/>
<rect x="300.4" y="639.8" width="4.2" height="18.2" fill="#b9dcc8"/>
<path d="M299.5 658.6 L305.3 664.4 M299.5 664.4 L305.3 658.6" stroke="#000" stroke-width="1.6" fill="none"/>
<path d="M299.5 647.2 L305.3 653 M299.5 653 L305.3 647.2" stroke="#3a936a" stroke-width="1.5" fill="none"/>
<line x1="313.5" y1="665.5" x2="313.5" y2="678.8" stroke="#000" stroke-width="1.2"/>
<line x1="313.5" y1="695.1" x2="313.5" y2="702.6" stroke="#000" stroke-width="1.2"/>
<line x1="310.7" y1="665.5" x2="316.3" y2="665.5" stroke="#000" stroke-width="1.2"/>
<line x1="310.7" y1="702.6" x2="316.3" y2="702.6" stroke="#000" stroke-width="1.2"/>
<rect x="308.8" y="678.8" width="9.4" height="16.3" fill="#55a07a" stroke="#2c6b4b" stroke-width="0.8"/>
<line x1="308.8" y1="686.9" x2="318.2" y2="686.9" stroke="#000" stroke-width="1.4"/>
<circle cx="313.5" cy="686.1" r="1.7" fill="#3c9a68" stroke="#000" stroke-width="0.7"/>
<circle cx="313.5" cy="626.6" r="0.9" fill="#000"/>
<circle cx="313.5" cy="649.3" r="0.9" fill="#000"/>
<circle cx="313.5" cy="651.7" r="0.9" fill="#000"/>
<circle cx="313.5" cy="655.6" r="0.9" fill="#000"/>
<circle cx="313.5" cy="662" r="0.9" fill="#000"/>
<circle cx="313.5" cy="706.5" r="0.9" fill="#000"/>
<circle cx="313.5" cy="709.4" r="0.9" fill="#000"/>
<circle cx="313.5" cy="712.5" r="0.9" fill="#000"/>
<circle cx="313.5" cy="716" r="0.9" fill="#000"/>
<circle cx="313.5" cy="721.3" r="0.9" fill="#000"/>
<circle cx="313.5" cy="726" r="0.9" fill="#000"/>
<line x1="333.1" y1="678" x2="333.1" y2="695.1" stroke="#000" stroke-width="1.2"/>
<line x1="333.1" y1="750.3" x2="333.1" y2="762.1" stroke="#000" stroke-width="1.2"/>
<line x1="330.3" y1="678" x2="335.9" y2="678" stroke="#000" stroke-width="1.2"/>
<line x1="330.3" y1="762.1" x2="335.9" y2="762.1" stroke="#000" stroke-width="1.2"/>
<rect x="328.4" y="695.1" width="9.4" height="55.2" fill="#d6d6d6" stroke="#444" stroke-width="0.8"/>
<line x1="328.4" y1="730.5" x2="337.8" y2="730.5" stroke="#000" stroke-width="1.4"/>
<circle cx="333.1" cy="722.4" r="1.7" fill="#fff" stroke="#000" stroke-width="0.7"/>
<circle cx="333.1" cy="564.8" r="0.9" fill="#000"/>
<circle cx="333.1" cy="634.7" r="0.9" fill="#000"/>
<circle cx="333.1" cy="640.6" r="0.9" fill="#000"/>
<circle cx="333.1" cy="652" r="0.9" fill="#000"/>
<circle cx="333.1" cy="765.2" r="0.9" fill="#000"/>
<circle cx="333.1" cy="769.6" r="0.9" fill="#000"/>
<circle cx="333.1" cy="773.6" r="0.9" fill="#000"/>
<circle cx="333.1" cy="777.5" r="0.9" fill="#000"/>
<circle cx="333.1" cy="783.4" r="0.9" fill="#000"/>
<line x1="343.2" y1="703.5" x2="343.2" y2="726.5" stroke="#000" stroke-width="1.2"/>
<line x1="343.2" y1="752.2" x2="343.2" y2="774" stroke="#000" stroke-width="1.2"/>
<line x1="340.4" y1="703.5" x2="346" y2="703.5" stroke="#000" stroke-width="1.2"/>
<line x1="340.4" y1="774" x2="346" y2="774" stroke="#000" stroke-width="1.2"/>
<rect x="338.5" y="726.5" width="9.4" height="25.7" fill="#aedbec" stroke="#3a3a3a" stroke-width="0.8"/>
<line x1="338.5" y1="738.7" x2="347.9" y2="738.7" stroke="#000" stroke-width="1.4"/>
<circle cx="343.2" cy="737.6" r="1.7" fill="#fff" stroke="#000" stroke-width="0.7"/>
<circle cx="343.2" cy="660.4" r="0.9" fill="#000"/>
<circle cx="343.2" cy="677" r="0.9" fill="#000"/>
<circle cx="343.2" cy="778.8" r="0.9" fill="#000"/>
<circle cx="343.2" cy="791.3" r="0.9" fill="#000"/>
<rect x="403.5" y="646.1" width="4.2" height="18.3" fill="#b9dcc8"/>
<path d="M402.6 653.5 L408.4 659.3 M402.6 659.3 L408.4 653.5" stroke="#3a936a" stroke-width="1.5" fill="none"/>
<path d="M402.6 648 L408.4 653.8 M402.6 653.8 L408.4 648" stroke="#000" stroke-width="1.6" fill="none"/>
<line x1="416.5" y1="633.8" x2="416.5" y2="651.2" stroke="#000" stroke-width="1.2"/>
<line x1="416.5" y1="678.9" x2="416.5" y2="689.9" stroke="#000" stroke-width="1.2"/>
<line x1="413.7" y1="633.8" x2="419.3" y2="633.8" stroke="#000" stroke-width="1.2"/>
<line x1="413.7" y1="689.9" x2="419.3" y2="689.9" stroke="#000" stroke-width="1.2"/>
<rect x="411.8" y="651.2" width="9.4" height="27.7" fill="#55a07a" stroke="#2c6b4b" stroke-width="0.8"/>
<line x1="411.8" y1="665.5" x2="421.2" y2="665.5" stroke="#000" stroke-width="1.4"/>
<circle cx="416.5" cy="662" r="1.7" fill="#3c9a68" stroke="#000" stroke-width="0.7"/>
<circle cx="416.5" cy="560.2" r="0.9" fill="#000"/>
<circle cx="416.5" cy="570.8" r="0.9" fill="#000"/>
<circle cx="416.5" cy="582.3" r="0.9" fill="#000"/>
<circle cx="416.5" cy="597.8" r="0.9" fill="#000"/>
<circle cx="416.5" cy="606.5" r="0.9" fill="#000"/>
<circle cx="416.5" cy="609.7" r="0.9" fill="#000"/>
<circle cx="416.5" cy="610.8" r="0.9" fill="#000"/>
<circle cx="416.5" cy="617.1" r="0.9" fill="#000"/>
<circle cx="416.5" cy="623.1" r="0.9" fill="#000"/>
<circle cx="416.5" cy="630.6" r="0.9" fill="#000"/>
<circle cx="416.5" cy="693.5" r="0.9" fill="#000"/>
<circle cx="416.5" cy="698.3" r="0.9" fill="#000"/>
<circle cx="416.5" cy="700.7" r="0.9" fill="#000"/>
<circle cx="416.5" cy="703" r="0.9" fill="#000"/>
<circle cx="416.5" cy="712.5" r="0.9" fill="#000"/>
<circle cx="416.5" cy="718.1" r="0.9" fill="#000"/>
<circle cx="416.5" cy="724" r="0.9" fill="#000"/>
<line x1="436.3" y1="653.6" x2="436.3" y2="684.8" stroke="#000" stroke-width="1.2"/>
<line x1="436.3" y1="743.1" x2="436.3" y2="759.3" stroke="#000" stroke-width="1.2"/>
<line x1="433.5" y1="653.6" x2="439.1" y2="653.6" stroke="#000" stroke-width="1.2"/>
<line x1="433.5" y1="759.3" x2="439.1" y2="759.3" stroke="#000" stroke-width="1.2"/>
<rect x="431.6" y="684.8" width="9.4" height="58.3" fill="#d6d6d6" stroke="#444" stroke-width="0.8"/>
<line x1="431.6" y1="720.5" x2="441" y2="720.5" stroke="#000" stroke-width="1.4"/>
<circle cx="436.3" cy="701.5" r="1.7" fill="#fff" stroke="#000" stroke-width="0.7"/>
<circle cx="436.3" cy="573.5" r="0.9" fill="#000"/>
<circle cx="436.3" cy="616.8" r="0.9" fill="#000"/>
<circle cx="436.3" cy="627.1" r="0.9" fill="#000"/>
<circle cx="436.3" cy="760.9" r="0.9" fill="#000"/>
<circle cx="436.3" cy="765.6" r="0.9" fill="#000"/>
<circle cx="436.3" cy="768.8" r="0.9" fill="#000"/>
<circle cx="436.3" cy="772.8" r="0.9" fill="#000"/>
<circle cx="436.3" cy="791" r="0.9" fill="#000"/>
<line x1="446.3" y1="627.9" x2="446.3" y2="659.6" stroke="#000" stroke-width="1.2"/>
<line x1="446.3" y1="731.2" x2="446.3" y2="747.1" stroke="#000" stroke-width="1.2"/>
<line x1="443.5" y1="627.9" x2="449.1" y2="627.9" stroke="#000" stroke-width="1.2"/>
<line x1="443.5" y1="747.1" x2="449.1" y2="747.1" stroke="#000" stroke-width="1.2"/>
<rect x="441.6" y="659.6" width="9.4" height="71.6" fill="#aedbec" stroke="#3a3a3a" stroke-width="0.8"/>
<line x1="441.6" y1="695.1" x2="451" y2="695.1" stroke="#000" stroke-width="1.4"/>
<circle cx="446.3" cy="675.3" r="1.7" fill="#fff" stroke="#000" stroke-width="0.7"/>
<circle cx="446.3" cy="623.5" r="0.9" fill="#000"/>
<circle cx="446.3" cy="776.7" r="0.9" fill="#000"/>
<rect x="506.7" y="632.7" width="4.1" height="21.3" fill="#b9dcc8"/>
<path d="M505.9 642 L511.7 647.8 M505.9 647.8 L511.7 642" stroke="#000" stroke-width="1.6" fill="none"/>
<path d="M506.2 642.3 L511.4 647.5 M506.2 647.5 L511.4 642.3" stroke="#2e8b57" stroke-width="1" fill="none"/>
<line x1="519.7" y1="636.9" x2="519.7" y2="653.3" stroke="#000" stroke-width="1.2"/>
<line x1="519.7" y1="683.3" x2="519.7" y2="693.8" stroke="#000" stroke-width="1.2"/>
<line x1="516.9" y1="636.9" x2="522.5" y2="636.9" stroke="#000" stroke-width="1.2"/>
<line x1="516.9" y1="693.8" x2="522.5" y2="693.8" stroke="#000" stroke-width="1.2"/>
<rect x="515" y="653.3" width="9.4" height="30" fill="#55a07a" stroke="#2c6b4b" stroke-width="0.8"/>
<line x1="515" y1="669.9" x2="524.4" y2="669.9" stroke="#000" stroke-width="1.4"/>
<circle cx="519.7" cy="667.5" r="1.7" fill="#3c9a68" stroke="#000" stroke-width="0.7"/>
<circle cx="519.7" cy="587.5" r="0.9" fill="#000"/>
<circle cx="519.7" cy="595.4" r="0.9" fill="#000"/>
<circle cx="519.7" cy="611.3" r="0.9" fill="#000"/>
<circle cx="519.7" cy="617.6" r="0.9" fill="#000"/>
<circle cx="519.7" cy="623.1" r="0.9" fill="#000"/>
<circle cx="519.7" cy="625.5" r="0.9" fill="#000"/>
<circle cx="519.7" cy="627.9" r="0.9" fill="#000"/>
<circle cx="519.7" cy="630.3" r="0.9" fill="#000"/>
<circle cx="519.7" cy="632.7" r="0.9" fill="#000"/>
<circle cx="519.7" cy="696.7" r="0.9" fill="#000"/>
<circle cx="519.7" cy="699" r="0.9" fill="#000"/>
<circle cx="519.7" cy="702.2" r="0.9" fill="#000"/>
<circle cx="519.7" cy="705.4" r="0.9" fill="#000"/>
<circle cx="519.7" cy="708.6" r="0.9" fill="#000"/>
<circle cx="519.7" cy="711.7" r="0.9" fill="#000"/>
<line x1="539.2" y1="631.4" x2="539.2" y2="680.3" stroke="#000" stroke-width="1.2"/>
<line x1="539.2" y1="730.4" x2="539.2" y2="760.1" stroke="#000" stroke-width="1.2"/>
<line x1="536.4" y1="631.4" x2="542" y2="631.4" stroke="#000" stroke-width="1.2"/>
<line x1="536.4" y1="760.1" x2="542" y2="760.1" stroke="#000" stroke-width="1.2"/>
<rect x="534.5" y="680.3" width="9.4" height="50.1" fill="#d6d6d6" stroke="#444" stroke-width="0.8"/>
<line x1="534.5" y1="718.1" x2="543.9" y2="718.1" stroke="#000" stroke-width="1.4"/>
<circle cx="539.2" cy="694" r="1.7" fill="#fff" stroke="#000" stroke-width="0.7"/>
<circle cx="539.2" cy="602.1" r="0.9" fill="#000"/>
<circle cx="539.2" cy="617.1" r="0.9" fill="#000"/>
<circle cx="539.2" cy="764" r="0.9" fill="#000"/>
<circle cx="539.2" cy="774.3" r="0.9" fill="#000"/>
<circle cx="539.2" cy="777.8" r="0.9" fill="#000"/>
<circle cx="539.2" cy="787.5" r="0.9" fill="#000"/>
<line x1="549.2" y1="633.1" x2="549.2" y2="674.4" stroke="#000" stroke-width="1.2"/>
<line x1="549.2" y1="739" x2="549.2" y2="743.4" stroke="#000" stroke-width="1.2"/>
<line x1="546.4" y1="633.1" x2="552" y2="633.1" stroke="#000" stroke-width="1.2"/>
<line x1="546.4" y1="743.4" x2="552" y2="743.4" stroke="#000" stroke-width="1.2"/>
<rect x="544.5" y="674.4" width="9.4" height="64.6" fill="#aedbec" stroke="#3a3a3a" stroke-width="0.8"/>
<line x1="544.5" y1="712.1" x2="553.9" y2="712.1" stroke="#000" stroke-width="1.4"/>
<circle cx="549.2" cy="699.5" r="1.7" fill="#fff" stroke="#000" stroke-width="0.7"/>
<circle cx="549.2" cy="586.7" r="0.9" fill="#000"/>
<circle cx="549.2" cy="602.1" r="0.9" fill="#000"/>
<circle cx="549.2" cy="613.3" r="0.9" fill="#000"/>
<circle cx="549.2" cy="772.4" r="0.9" fill="#000"/>
<path d="M68.6 565.4 L72.8 569.6 M68.6 569.6 L72.8 565.4" stroke="#2e8b57" stroke-width="1.3" fill="none"/>
<path d="M68.6 579.9 L72.8 584.1 M68.6 584.1 L72.8 579.9" stroke="#000" stroke-width="1.3" fill="none"/>
<rect x="58" y="593.5" width="25.5" height="6.4" fill="#2e8b57"/>
<rect x="58" y="607.8" width="25.5" height="6.4" fill="#d3d3d3"/>
<rect x="58" y="622.6" width="25.5" height="6.5" fill="#add8e6"/>
<text x="88.4" y="570.3" font-size="9.4"  textLength="27.4" lengthAdjust="spacingAndGlyphs">CP4 P</text>
<text x="116.8" y="571.9" font-size="7" class="i" textLength="14.2" lengthAdjust="spacingAndGlyphs">max</text>
<text x="131.6" y="569" font-size="4.9" class="i" textLength="3.8" lengthAdjust="spacingAndGlyphs">95</text>
<text x="136.2" y="571.9" font-size="7" class="i" textLength="13.8" lengthAdjust="spacingAndGlyphs">t + s</text>
<text x="88.4" y="584.3" font-size="9.4"  textLength="16.6" lengthAdjust="spacingAndGlyphs">CP4</text>
<text x="105.8" y="585.9" font-size="7" class="i" textLength="30.4" lengthAdjust="spacingAndGlyphs">modelled</text>
<text x="140.7" y="584.3" font-size="9.4"  textLength="6" lengthAdjust="spacingAndGlyphs">P</text>
<text x="147.6" y="585.9" font-size="7" class="i" textLength="13.8" lengthAdjust="spacingAndGlyphs">max</text>
<text x="161.9" y="583" font-size="4.9" class="i" textLength="3.8" lengthAdjust="spacingAndGlyphs">95</text>
<text x="88.4" y="598.9" font-size="9.4"  textLength="33.6" lengthAdjust="spacingAndGlyphs">CMIP P</text>
<text x="122.9" y="600.5" font-size="7" class="i" textLength="14" lengthAdjust="spacingAndGlyphs">max</text>
<text x="137.4" y="597.6" font-size="4.9" class="i" textLength="3.8" lengthAdjust="spacingAndGlyphs">95</text>
<text x="141.7" y="600.5" font-size="7" class="i" textLength="13.8" lengthAdjust="spacingAndGlyphs">t + s</text>
<text x="88.4" y="613.4" font-size="9.4"  textLength="22" lengthAdjust="spacingAndGlyphs">CMIP</text>
<text x="111.1" y="615" font-size="7" class="i" textLength="30.6" lengthAdjust="spacingAndGlyphs">modelled</text>
<text x="146.4" y="613.4" font-size="9.4"  textLength="42" lengthAdjust="spacingAndGlyphs">daily-P95</text>
<text x="88.4" y="627.6" font-size="9.4"  textLength="90.7" lengthAdjust="spacingAndGlyphs">CMIP5-BC daily-P95</text>
<text x="62.7" y="790.9" font-size="9.7"  textLength="16.8" lengthAdjust="spacingAndGlyphs">CP4</text>
<text x="80.2" y="792.5" font-size="6.6" class="i" textLength="4.5" lengthAdjust="spacingAndGlyphs">H</text>
<text x="89.6" y="790.9" font-size="9.7"  textLength="29" lengthAdjust="spacingAndGlyphs">(mm h</text>
<text x="119.6" y="787.2" font-size="6.6"  textLength="8.8" lengthAdjust="spacingAndGlyphs">−1</text>
<text x="129.8" y="790.9" font-size="9.7"  textLength="5.8" lengthAdjust="spacingAndGlyphs">):</text>
<text x="195.7" y="791" font-size="9.7"  textLength="26" lengthAdjust="spacingAndGlyphs">42.22</text>
<text x="299.3" y="791" font-size="9.7"  textLength="26" lengthAdjust="spacingAndGlyphs">45.58</text>
<text x="402.7" y="791" font-size="9.7"  textLength="26" lengthAdjust="spacingAndGlyphs">32.07</text>
<text x="505.8" y="791" font-size="9.7"  textLength="26" lengthAdjust="spacingAndGlyphs">39.76</text>
<rect x="53.5" y="555" width="518.1" height="242.6" fill="none" stroke="#000" stroke-width="0.9"/>
<line x1="49.3" y1="797.44" x2="53.5" y2="797.44" stroke="#000" stroke-width="0.9"/>
<text x="44.8" y="801.64" font-size="12" text-anchor="end" textLength="23.4" lengthAdjust="spacingAndGlyphs">−40</text>
<line x1="49.3" y1="769.72" x2="53.5" y2="769.72" stroke="#000" stroke-width="0.9"/>
<text x="44.8" y="773.92" font-size="12" text-anchor="end" textLength="23.4" lengthAdjust="spacingAndGlyphs">−20</text>
<line x1="49.3" y1="742" x2="53.5" y2="742" stroke="#000" stroke-width="0.9"/>
<text x="44.8" y="746.2" font-size="12" text-anchor="end" textLength="6.8" lengthAdjust="spacingAndGlyphs">0</text>
<line x1="49.3" y1="714.28" x2="53.5" y2="714.28" stroke="#000" stroke-width="0.9"/>
<text x="44.8" y="718.48" font-size="12" text-anchor="end" textLength="14.2" lengthAdjust="spacingAndGlyphs">20</text>
<line x1="49.3" y1="686.56" x2="53.5" y2="686.56" stroke="#000" stroke-width="0.9"/>
<text x="44.8" y="690.76" font-size="12" text-anchor="end" textLength="14.2" lengthAdjust="spacingAndGlyphs">40</text>
<line x1="49.3" y1="658.84" x2="53.5" y2="658.84" stroke="#000" stroke-width="0.9"/>
<text x="44.8" y="663.04" font-size="12" text-anchor="end" textLength="14.2" lengthAdjust="spacingAndGlyphs">60</text>
<line x1="49.3" y1="631.12" x2="53.5" y2="631.12" stroke="#000" stroke-width="0.9"/>
<text x="44.8" y="635.32" font-size="12" text-anchor="end" textLength="14.2" lengthAdjust="spacingAndGlyphs">80</text>
<line x1="49.3" y1="603.4" x2="53.5" y2="603.4" stroke="#000" stroke-width="0.9"/>
<text x="44.8" y="607.6" font-size="12" text-anchor="end" textLength="20.6" lengthAdjust="spacingAndGlyphs">100</text>
<line x1="49.3" y1="575.68" x2="53.5" y2="575.68" stroke="#000" stroke-width="0.9"/>
<text x="44.8" y="579.88" font-size="12" text-anchor="end" textLength="20.6" lengthAdjust="spacingAndGlyphs">120</text>
<line x1="210.4" y1="797.6" x2="210.4" y2="801.8" stroke="#000" stroke-width="0.9"/>
<text x="210.4" y="814.7" font-size="11.7" text-anchor="middle" textLength="31.7" lengthAdjust="spacingAndGlyphs">Sahel</text>
<line x1="313.8" y1="797.6" x2="313.8" y2="801.8" stroke="#000" stroke-width="0.9"/>
<text x="313.8" y="814.7" font-size="11.7" text-anchor="middle" textLength="46.3" lengthAdjust="spacingAndGlyphs">Bamako</text>
<line x1="416.8" y1="797.6" x2="416.8" y2="801.8" stroke="#000" stroke-width="0.9"/>
<text x="416.8" y="814.7" font-size="11.7" text-anchor="middle" textLength="52.4" lengthAdjust="spacingAndGlyphs">Timbuktu</text>
<line x1="519.9" y1="797.6" x2="519.9" y2="801.8" stroke="#000" stroke-width="0.9"/>
<text x="519.9" y="814.7" font-size="11.7" text-anchor="middle" textLength="44" lengthAdjust="spacingAndGlyphs">Niamey</text>
<text transform="translate(12 675.7) rotate(-90)" font-size="11.9" text-anchor="middle" textLength="109" lengthAdjust="spacingAndGlyphs">Δ Precipitation (%)</text>
<text x="26" y="545.5" font-size="18.5" class="b" textLength="8.6" lengthAdjust="spacingAndGlyphs">c</text>
</svg>
</body></html>
